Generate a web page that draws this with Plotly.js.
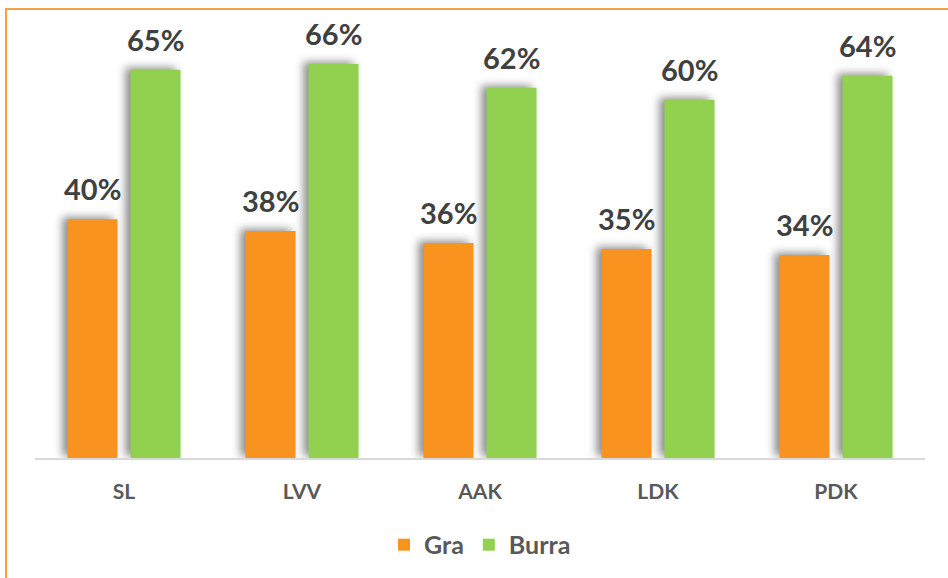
<!DOCTYPE html>
<html>
<head>
<meta charset="utf-8">
<script src="https://cdn.plot.ly/plotly-3.0.1.min.js"></script>
<style>
  html, body { margin: 0; padding: 0; background: #ffffff; }
  #wrap { position: relative; width: 948px; height: 578px; overflow: hidden; }
  #chart { position: absolute; left: 0; top: 0; width: 948px; height: 578px; }
  #frame { position: absolute; left: 5px; top: 8px; width: 960px; height: 600px;
           border-left: 2px solid #F7A03C; border-top: 2px solid #F0A050; pointer-events: none; }
  #chart .bars .point path { filter: drop-shadow(-5px -2px 4px rgba(0,0,0,0.45)); }
</style>
</head>
<body>
<div id="wrap">
  <div id="chart"></div>
  <div id="frame"></div>
</div>
<script>
const categories = ["SL", "LVV", "AAK", "LDK", "PDK"];
const graValues = [40, 38, 36, 35, 34];
const burraValues = [65, 66, 62, 60, 64];
const seriesNames = ["Gra", "Burra"];

const fontFam = "Lato, 'DejaVu Sans', sans-serif";
const labelFont = { family: fontFam, size: 29, color: "#404040", weight: 700 };

const traces = [
  {
    type: "bar", name: seriesNames[0], x: categories, y: graValues,
    marker: { color: "#F7931E" }, hoverinfo: "skip"
  },
  {
    type: "bar", name: seriesNames[1], x: categories, y: burraValues,
    marker: { color: "#92D050" }, hoverinfo: "skip"
  }
];

// value labels placed via the axis scales, shifted to each bar of the group
const groupShift = 31.5;
const annotations = [];
categories.forEach((c, i) => {
  annotations.push({ x: c, y: graValues[i], xref: "x", yref: "y", text: graValues[i] + "%",
    showarrow: false, xshift: -groupShift, yshift: 11, yanchor: "bottom", font: labelFont });
  annotations.push({ x: c, y: burraValues[i], xref: "x", yref: "y", text: burraValues[i] + "%",
    showarrow: false, xshift: groupShift, yshift: 11, yanchor: "bottom", font: labelFont });
});

const layout = {
  width: 948, height: 578,
  margin: { l: 35, r: 22.5, t: 40, b: 120, autoexpand: false },
  paper_bgcolor: "#ffffff", plot_bgcolor: "#ffffff",
  barmode: "group", bargap: 0.292, bargroupgap: 0.206,
  showlegend: true,
  legend: {
    orientation: "h", x: 0.5, xanchor: "center", y: -0.208, yanchor: "middle",
    font: { family: fontFam, size: 25, color: "#595959", weight: 700 },
    itemwidth: 30, traceorder: "normal"
  },
  xaxis: {
    showline: true, linecolor: "#D9D9D9", linewidth: 2,
    showgrid: false, zeroline: false, ticks: "", automargin: false,
    tickfont: { family: fontFam, size: 21, color: "#595959", weight: 700 },
    ticklabelstandoff: 14
  },
  yaxis: {
    range: [0, 70], visible: false, showgrid: false, zeroline: false, automargin: false
  },
  annotations: annotations
};

Plotly.newPlot("chart", traces, layout, { displayModeBar: false, staticPlot: true });
</script>
</body>
</html>
